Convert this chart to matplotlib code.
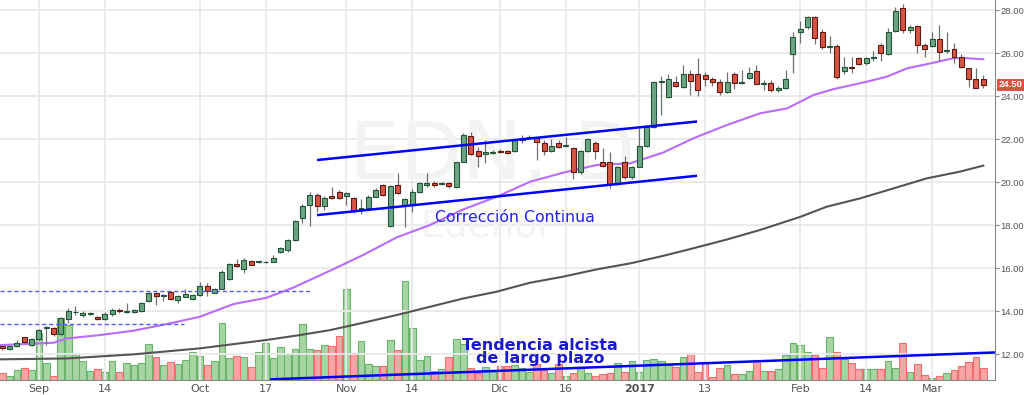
import numpy as np
import matplotlib.pyplot as plt
import matplotlib.transforms as mtransforms

# EDN daily candles (index 0 = first visible bar)
opens = [12.37, 12.27, 12.38, 12.79, 12.45, 12.70, 13.22, 13.21, 12.93, 13.65,
         13.95, 13.81, 13.89, 13.75, 13.65, 13.89, 14.06, 13.96, 13.97, 14.01,
         14.46, 14.85, 14.73, 14.88, 14.54, 14.68, 14.59, 14.74, 15.16, 14.86,
         15.05, 15.49, 16.20, 15.98, 16.32, 16.28, 16.27, 16.30, 16.74, 16.85,
         17.31, 18.32, 18.95, 19.42, 18.88, 19.37, 19.56, 19.34, 19.25, 18.74,
         18.80, 19.33, 19.85, 17.96, 19.85, 18.94, 18.94, 19.56, 19.85, 19.98,
         19.93, 19.98, 19.79, 20.95, 22.16, 21.46, 21.29, 21.37, 21.46, 21.43,
         21.45, 21.96, 22.06, 22.04, 21.84, 21.46, 21.84, 21.67, 21.57, 20.49,
         21.46, 21.84, 20.95, 20.95, 19.91, 20.95, 20.22, 20.72, 21.70, 22.55,
         24.65, 23.97, 24.67, 24.41, 25.01, 25.01, 24.98, 24.79, 24.67, 24.20,
         25.01, 24.63, 24.85, 25.18, 24.57, 24.61, 24.28, 24.36, 25.96, 26.96,
         27.20, 27.69, 26.96, 26.27, 26.34, 25.18, 25.37, 25.77, 25.52, 25.79,
         26.37, 25.96, 27.04, 28.08, 27.07, 27.27, 26.37, 26.33, 26.64, 26.10,
         26.17, 25.80, 25.29, 24.78, 24.78]
highs = [12.42, 12.40, 12.65, 12.83, 12.75, 13.20, 13.30, 13.28, 13.72, 14.15,
         14.25, 14.00, 13.97, 13.80, 13.96, 14.15, 14.15, 14.40, 14.10, 14.45,
         14.90, 14.91, 14.82, 14.95, 14.75, 15.03, 14.80, 15.35, 15.30, 15.10,
         15.90, 16.25, 16.43, 16.46, 16.40, 16.35, 16.33, 16.62, 17.00, 17.36,
         18.24, 18.98, 19.56, 19.48, 19.36, 19.79, 19.65, 19.55, 19.30, 19.20,
         19.40, 19.75, 19.90, 19.85, 20.41, 19.25, 19.70, 20.00, 20.41, 20.05,
         20.00, 20.02, 20.95, 22.30, 22.35, 21.65, 21.96, 21.50, 21.52, 21.48,
         22.00, 22.20, 22.20, 22.11, 21.95, 22.00, 21.95, 22.10, 21.65, 21.50,
         22.05, 21.90, 21.57, 21.42, 20.75, 21.20, 20.75, 22.50, 22.65, 24.72,
         24.95, 25.01, 24.95, 25.44, 25.21, 25.75, 25.10, 24.90, 24.80, 25.10,
         25.10, 25.20, 25.35, 25.44, 24.75, 24.75, 24.45, 25.21, 26.99, 27.50,
         27.72, 27.72, 27.10, 26.79, 26.40, 25.80, 25.80, 25.82, 25.82, 26.11,
         26.45, 27.15, 28.15, 28.28, 27.30, 27.30, 26.48, 26.96, 27.30, 26.96,
         26.48, 25.95, 25.29, 25.29, 24.98]
lows = [12.22, 12.22, 12.33, 12.55, 12.40, 12.62, 12.45, 12.85, 12.88, 13.44,
        13.84, 13.75, 13.83, 13.60, 13.60, 13.80, 13.90, 13.93, 13.93, 13.99,
        14.43, 14.29, 14.48, 14.54, 14.40, 14.66, 14.55, 14.71, 14.71, 14.83,
        15.03, 15.46, 16.07, 15.79, 16.15, 16.25, 16.25, 16.28, 16.69, 16.78,
        17.28, 18.12, 17.98, 18.63, 18.70, 19.20, 19.20, 18.95, 18.55, 18.52,
        18.70, 19.30, 19.35, 17.93, 19.45, 17.93, 18.60, 19.50, 19.79, 19.78,
        19.88, 19.75, 19.75, 20.92, 21.25, 20.72, 20.88, 21.33, 21.35, 21.33,
        21.40, 21.80, 22.00, 21.03, 21.25, 21.40, 21.60, 21.65, 20.13, 20.40,
        21.40, 21.10, 20.72, 19.71, 19.85, 20.15, 20.15, 20.69, 21.62, 22.50,
        23.12, 23.92, 24.40, 24.36, 24.05, 24.02, 24.45, 24.45, 24.05, 24.15,
        24.35, 24.55, 24.80, 24.55, 24.30, 24.20, 24.20, 24.33, 25.09, 26.48,
        27.10, 26.42, 26.20, 25.99, 24.80, 25.03, 25.09, 25.45, 25.45, 25.64,
        25.64, 25.91, 26.99, 26.92, 26.95, 25.99, 25.80, 26.30, 25.64, 26.02,
        25.52, 25.30, 24.41, 24.36, 24.36]
closes = [12.30, 12.37, 12.52, 12.58, 12.70, 13.12, 13.27, 12.93, 13.67, 14.00,
          13.98, 13.93, 13.91, 13.65, 13.87, 14.06, 14.00, 13.99, 14.04, 14.38,
          14.83, 14.72, 14.75, 14.56, 14.70, 14.79, 14.76, 15.16, 14.96, 15.05,
          15.84, 16.18, 16.12, 16.37, 16.17, 16.30, 16.30, 16.49, 16.93, 17.31,
          18.20, 18.89, 19.40, 18.91, 19.25, 19.25, 19.25, 19.48, 18.67, 18.80,
          19.33, 19.64, 19.42, 19.82, 19.48, 19.20, 19.56, 19.95, 19.98, 19.85,
          19.95, 19.82, 20.92, 22.19, 21.29, 21.23, 21.38, 21.39, 21.38, 21.37,
          21.94, 22.04, 22.08, 21.85, 21.46, 21.68, 21.65, 21.69, 20.49, 21.46,
          22.00, 21.45, 20.76, 19.91, 20.69, 20.22, 20.69, 21.70, 22.58, 24.67,
          24.69, 24.79, 24.47, 25.01, 24.70, 24.28, 24.79, 24.64, 24.20, 24.64,
          24.61, 24.65, 25.07, 24.56, 24.59, 24.27, 24.36, 24.79, 26.76, 27.10,
          27.69, 26.68, 26.27, 26.34, 24.87, 25.37, 25.32, 25.48, 25.75, 25.81,
          25.99, 26.96, 27.95, 27.07, 27.20, 26.36, 26.17, 26.64, 26.03, 26.12,
          25.80, 25.37, 24.78, 24.36, 24.50]
volumes = [67, 40, 100, 120, 100, 467, 167, 40, 617, 550,
           257, 193, 93, 107, 83, 190, 80, 167, 150, 167,
           360, 227, 150, 177, 160, 200, 283, 240, 150, 193,
           567, 217, 240, 227, 127, 283, 367, 217, 327, 273,
           307, 560, 307, 300, 350, 340, 440, 910, 267, 390,
           160, 140, 140, 400, 300, 990, 517, 200, 240, 93,
           107, 227, 407, 360, 123, 73, 130, 100, 140, 140,
           150, 120, 80, 160, 100, 73, 160, 40, 73, 127,
           73, 40, 60, 73, 167, 83, 193, 83, 200, 207,
           193, 150, 133, 233, 273, 83, 157, 33, 123, 150,
           60, 60, 90, 200, 90, 90, 107, 250, 367, 350,
           277, 250, 117, 433, 277, 207, 167, 110, 110, 107,
           110, 190, 117, 367, 83, 157, 50, 17, 40, 73,
           100, 140, 177, 227, 123]

# moving averages, read at sample bars
sma_fast_x = [-0.3, 7.0, 8.8, 13.4, 17.9, 22.5, 27.0, 31.6, 36.1, 39.8, 43.0, 46.1,
              49.3, 53.9, 58.4, 63.0, 67.5, 72.1, 76.6, 81.2, 85.8, 90.3, 94.4, 99.0,
              103.5, 107.2, 109.0, 110.8, 113.5, 118.1, 120.8, 123.6, 127.2, 129.9,
              131.8, 134.0]
sma_fast_y = [12.43, 12.54, 12.74, 12.90, 13.10, 13.41, 13.75, 14.34, 14.63, 15.11, 15.61, 16.10,
              16.62, 17.44, 18.01, 18.74, 19.32, 20.02, 20.44, 20.80, 20.88, 21.38, 22.04, 22.66,
              23.20, 23.43, 23.74, 24.05, 24.32, 24.67, 24.90, 25.29, 25.55, 25.76,
              25.76, 25.71]
sma_slow_x = [-0.3, 8.8, 17.9, 27.0, 36.1, 40.7, 44.8, 49.3, 53.9, 58.4, 63.0, 67.5,
              72.1, 76.6, 81.2, 85.8, 90.3, 94.4, 99.0, 103.5, 109.0, 112.6, 117.2,
              121.7, 126.3, 130.8, 134.0]
sma_slow_y = [11.77, 11.81, 12.00, 12.28, 12.67, 12.90, 13.13, 13.47, 13.83, 14.21, 14.60, 14.91,
              15.33, 15.61, 15.95, 16.23, 16.58, 16.93, 17.34, 17.78, 18.39, 18.86, 19.25,
              19.71, 20.18, 20.49, 20.77]

tick_pos = [5, 14, 27, 36, 47, 56, 68, 77, 87, 96, 109, 118, 127]
tick_labels = ['Sep', '14', 'Oct', '17', 'Nov', '14', 'Dic', '16', '2017', '13', 'Feb', '14', 'Mar']

# drawn lines: (x0, y0, x1, y1)
channel_top = (43.0, 21.03, 94.9, 22.82)
channel_bottom = (43.0, 18.47, 94.9, 20.30)
long_trend = (36.6, 10.84, 135.6, 12.09)
dashed_levels = [(14.96, 42.0), (13.39, 24.8)]

up_fill, up_edge = '#6ba583', '#225437'
dn_fill, dn_edge = '#d75442', '#5b1a13'

o = np.array(opens)
h = np.array(highs)
l = np.array(lows)
c = np.array(closes)
v = np.array(volumes)
x = np.arange(len(o))
up = c >= o

fig = plt.figure(figsize=(10.24, 3.95), dpi=100)
ax = fig.add_axes([0, 15 / 395, 995 / 1024, 380 / 395])
axv = ax.twinx()
ax.set_zorder(axv.get_zorder() + 1)
ax.patch.set_visible(False)
axv.set_facecolor('white')

# volume
axv.bar(x[up], v[up], width=0.92, color='#a6d4a3', edgecolor='#6ab56b', linewidth=0.8)
axv.bar(x[~up], v[~up], width=0.92, color='#f9a5a5', edgecolor='#ef6e6e', linewidth=0.8)
axv.set_ylim(0, 3800)
axv.set_yticks([])
for s in axv.spines.values():
    s.set_visible(False)

# grid
for yv in range(12, 29, 2):
    ax.axhline(yv, color='#e9e9e9', lw=1.3, zorder=0)
for tp in tick_pos:
    ax.axvline(tp, color='#e9e9e9', lw=1.3, zorder=0)

# watermark
ax.text(66.9, 21.17, 'EDN, D', fontsize=58, color='#f3f3f3', ha='center', va='center', zorder=0.5)
ax.text(66.2, 17.92, 'Edenor', fontsize=27, color='#f3f3f3', ha='center', va='center', zorder=0.5)

# moving averages
ax.plot(sma_slow_x, sma_slow_y, color='#555555', lw=1.5, zorder=2)
ax.plot(sma_fast_x, sma_fast_y, color='#b86bff', lw=1.5, zorder=2)

# candles
ax.vlines(x, l, h, color='#707070', lw=0.9, zorder=3)
body = np.maximum(np.abs(c - o), 0.04)
bottom = np.minimum(o, c)
ax.bar(x[up], body[up], bottom=bottom[up], width=0.68, color=up_fill,
       edgecolor=up_edge, linewidth=0.8, zorder=4)
ax.bar(x[~up], body[~up], bottom=bottom[~up], width=0.68, color=dn_fill,
       edgecolor=dn_edge, linewidth=0.8, zorder=4)

# trend lines
for x0, y0, x1, y1 in (channel_top, channel_bottom, long_trend):
    ax.plot([x0, x1], [y0, y1], color='#0000ff', lw=1.8, zorder=5, solid_capstyle='butt')
for lvl, xend in dashed_levels:
    ax.plot([-0.3, xend], [lvl, lvl], color='#5a5aff', lw=1, ls=(0, (3, 2)), zorder=5)

ax.text(70.0, 18.38, 'Corrección Continua', fontsize=11.3, color='#2222ee',
        ha='center', va='center', zorder=6)
ax.text(73.5, 12.11, 'Tendencia alcista\nde largo plazo', fontsize=11.5, color='#1a1acc',
        fontweight='bold', ha='center', va='center', linespacing=0.9, zorder=6)

ax.set_xlim(-0.31, 135.6)
ax.set_ylim(10.81, 28.465)

# axes styling
ax.yaxis.tick_right()
ax.set_yticks(range(12, 29, 2))
ax.set_yticklabels(['%.2f' % t for t in range(12, 29, 2)], family='Liberation Sans')
ax.tick_params(axis='y', colors='#888888', labelcolor='#555555', labelsize=6.8, length=3, pad=1)
ax.set_xticks(tick_pos)
ax.set_xticklabels(tick_labels)
ax.tick_params(axis='x', length=0, labelsize=8, labelcolor='#555555', pad=3)
for lab in ax.get_xticklabels():
    if lab.get_text() == '2017':
        lab.set_fontweight('bold')
for side in ('left', 'top'):
    ax.spines[side].set_visible(False)
ax.spines['right'].set_color('#8a8a8a')
ax.spines['bottom'].set_color('#8a8a8a')

# last price tag
trans = mtransforms.blended_transform_factory(ax.transAxes, ax.transData)
ax.text(1.004, closes[-1] + 0.02, '%.2f' % closes[-1], transform=trans, fontsize=6.8,
        family='Liberation Sans', color='white', fontweight='bold', ha='left', va='center',
        zorder=10, clip_on=False,
        bbox=dict(boxstyle='square,pad=0.2', facecolor=dn_fill, edgecolor='none'))

fig.savefig('out.png', dpi=100)
